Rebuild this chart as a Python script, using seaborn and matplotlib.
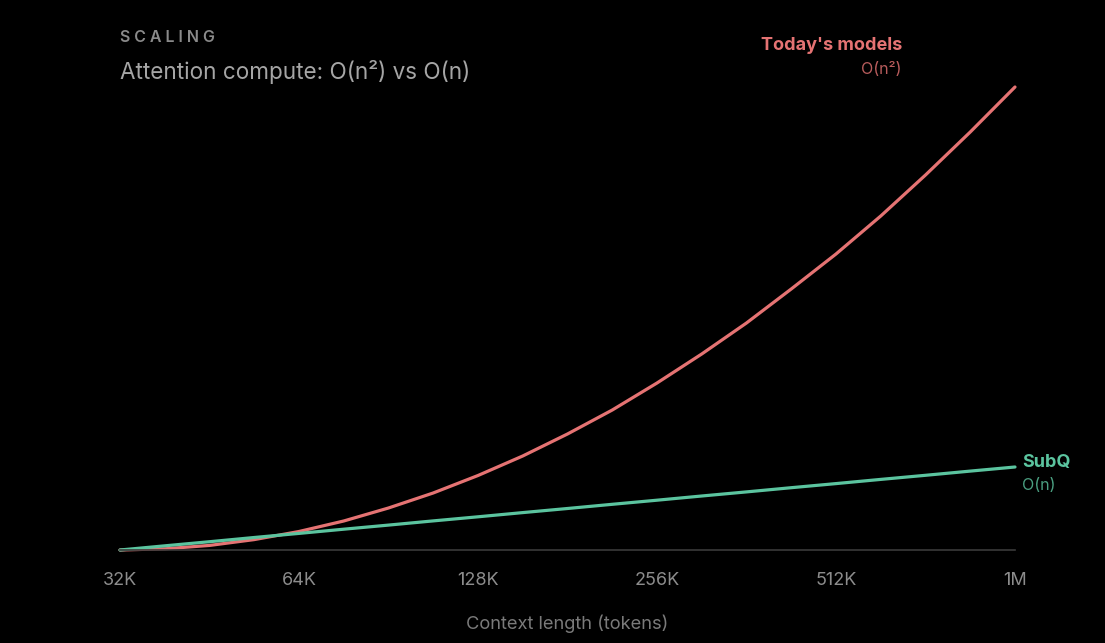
import pandas as pd
import matplotlib.pyplot as plt
import seaborn as sns

# Context lengths in K tokens (quarter-doubling steps) and relative compute
context_k = [32, 38.1, 45.3, 53.8, 64, 76.1, 90.5, 107.6, 128, 152.2, 181, 215.3,
             256, 304.4, 362, 430.5, 512, 608.9, 724.1, 861.1, 1024]
quadratic = [0, 1.2, 4.6, 10.4, 18.5, 29, 42, 57, 74.5, 94, 116, 140,
             167, 196, 227, 261, 296, 334, 375, 418, 463]
linear = [0, 4.2, 8.3, 12.5, 16.6, 20.8, 24.9, 29.1, 33.2, 37.4, 41.5, 45.7,
          49.8, 54, 58.1, 62.3, 66.4, 70.6, 74.7, 78.9, 83]

tick_k = [32, 64, 128, 256, 512, 1024]
tick_labels = ['32K', '64K', '128K', '256K', '512K', '1M']

RED = '#E57373'
RED_DIM = '#B85C5C'
GREEN = '#5BC49F'
GREEN_DIM = '#4A9E80'
GRAY = '#8C8C8C'

df = pd.concat([
    pd.DataFrame({'tokens': context_k, 'compute': quadratic, 'model': "Today's models"}),
    pd.DataFrame({'tokens': context_k, 'compute': linear, 'model': 'SubQ'}),
])

sns.set_theme(style='dark')
plt.rcParams['font.family'] = ['Inter', 'DejaVu Sans']

W, H = 1105, 643
fig = plt.figure(figsize=(W / 100, H / 100), dpi=100, facecolor='black')
ax = fig.add_axes([120 / W, (H - 550) / H, (1015 - 120) / W, (550 - 60) / H])
ax.set_facecolor('black')

sns.lineplot(
    data=df, x='tokens', y='compute', hue='model',
    palette={"Today's models": RED, 'SubQ': GREEN},
    linewidth=2.3, legend=False, ax=ax,
)
for line in ax.lines:
    line.set_clip_on(False)
    line.set_solid_capstyle('round')
    line.set_solid_joinstyle('round')

ax.set_xscale('log', base=2)
ax.set_xlim(32, 1024)
ax.set_ylim(0, 490)
ax.set_xticks(tick_k)
ax.set_xticklabels(tick_labels)
ax.set_yticks([])
ax.minorticks_off()

for side in ['top', 'right', 'left']:
    ax.spines[side].set_visible(False)
ax.spines['bottom'].set_color('#3A3A3A')
ax.spines['bottom'].set_linewidth(1.2)
ax.tick_params(axis='x', colors='#3A3A3A', length=6, width=1.2, pad=10,
               labelcolor=GRAY, labelsize=13)
ax.grid(False)

ax.set_xlabel('Context length (tokens)', color='#7A7A7A', fontsize=13.2, labelpad=18)
ax.set_ylabel('')

# header
fig.text(120 / W, 1 - 37 / H, ' '.join('SCALING'), color='#8A8A8A', fontsize=11.5,
         fontweight='semibold', va='center', ha='left')
fig.text(120 / W, 1 - 72 / H, 'Attention compute: O(n²) vs O(n)', color='#A5A5A5',
         fontsize=16.2, va='center', ha='left')

# series labels
fig.text(902 / W, 1 - 46 / H, "Today's models", color=RED, fontsize=13,
         fontweight='bold', va='center', ha='right')
fig.text(902 / W, 1 - 70 / H, 'O(n²)', color=RED_DIM, fontsize=11.5,
         va='center', ha='right')
ax.annotate('SubQ', xy=(context_k[-1], linear[-1]), xytext=(7, 5),
            textcoords='offset pixels', color=GREEN, fontsize=13,
            fontweight='bold', va='center', ha='left', annotation_clip=False)
ax.annotate('O(n)', xy=(context_k[-1], linear[-1]), xytext=(7, -18),
            textcoords='offset pixels', color=GREEN_DIM, fontsize=11.5,
            va='center', ha='left', annotation_clip=False)

fig.savefig('out.png', dpi=100, facecolor='black')
